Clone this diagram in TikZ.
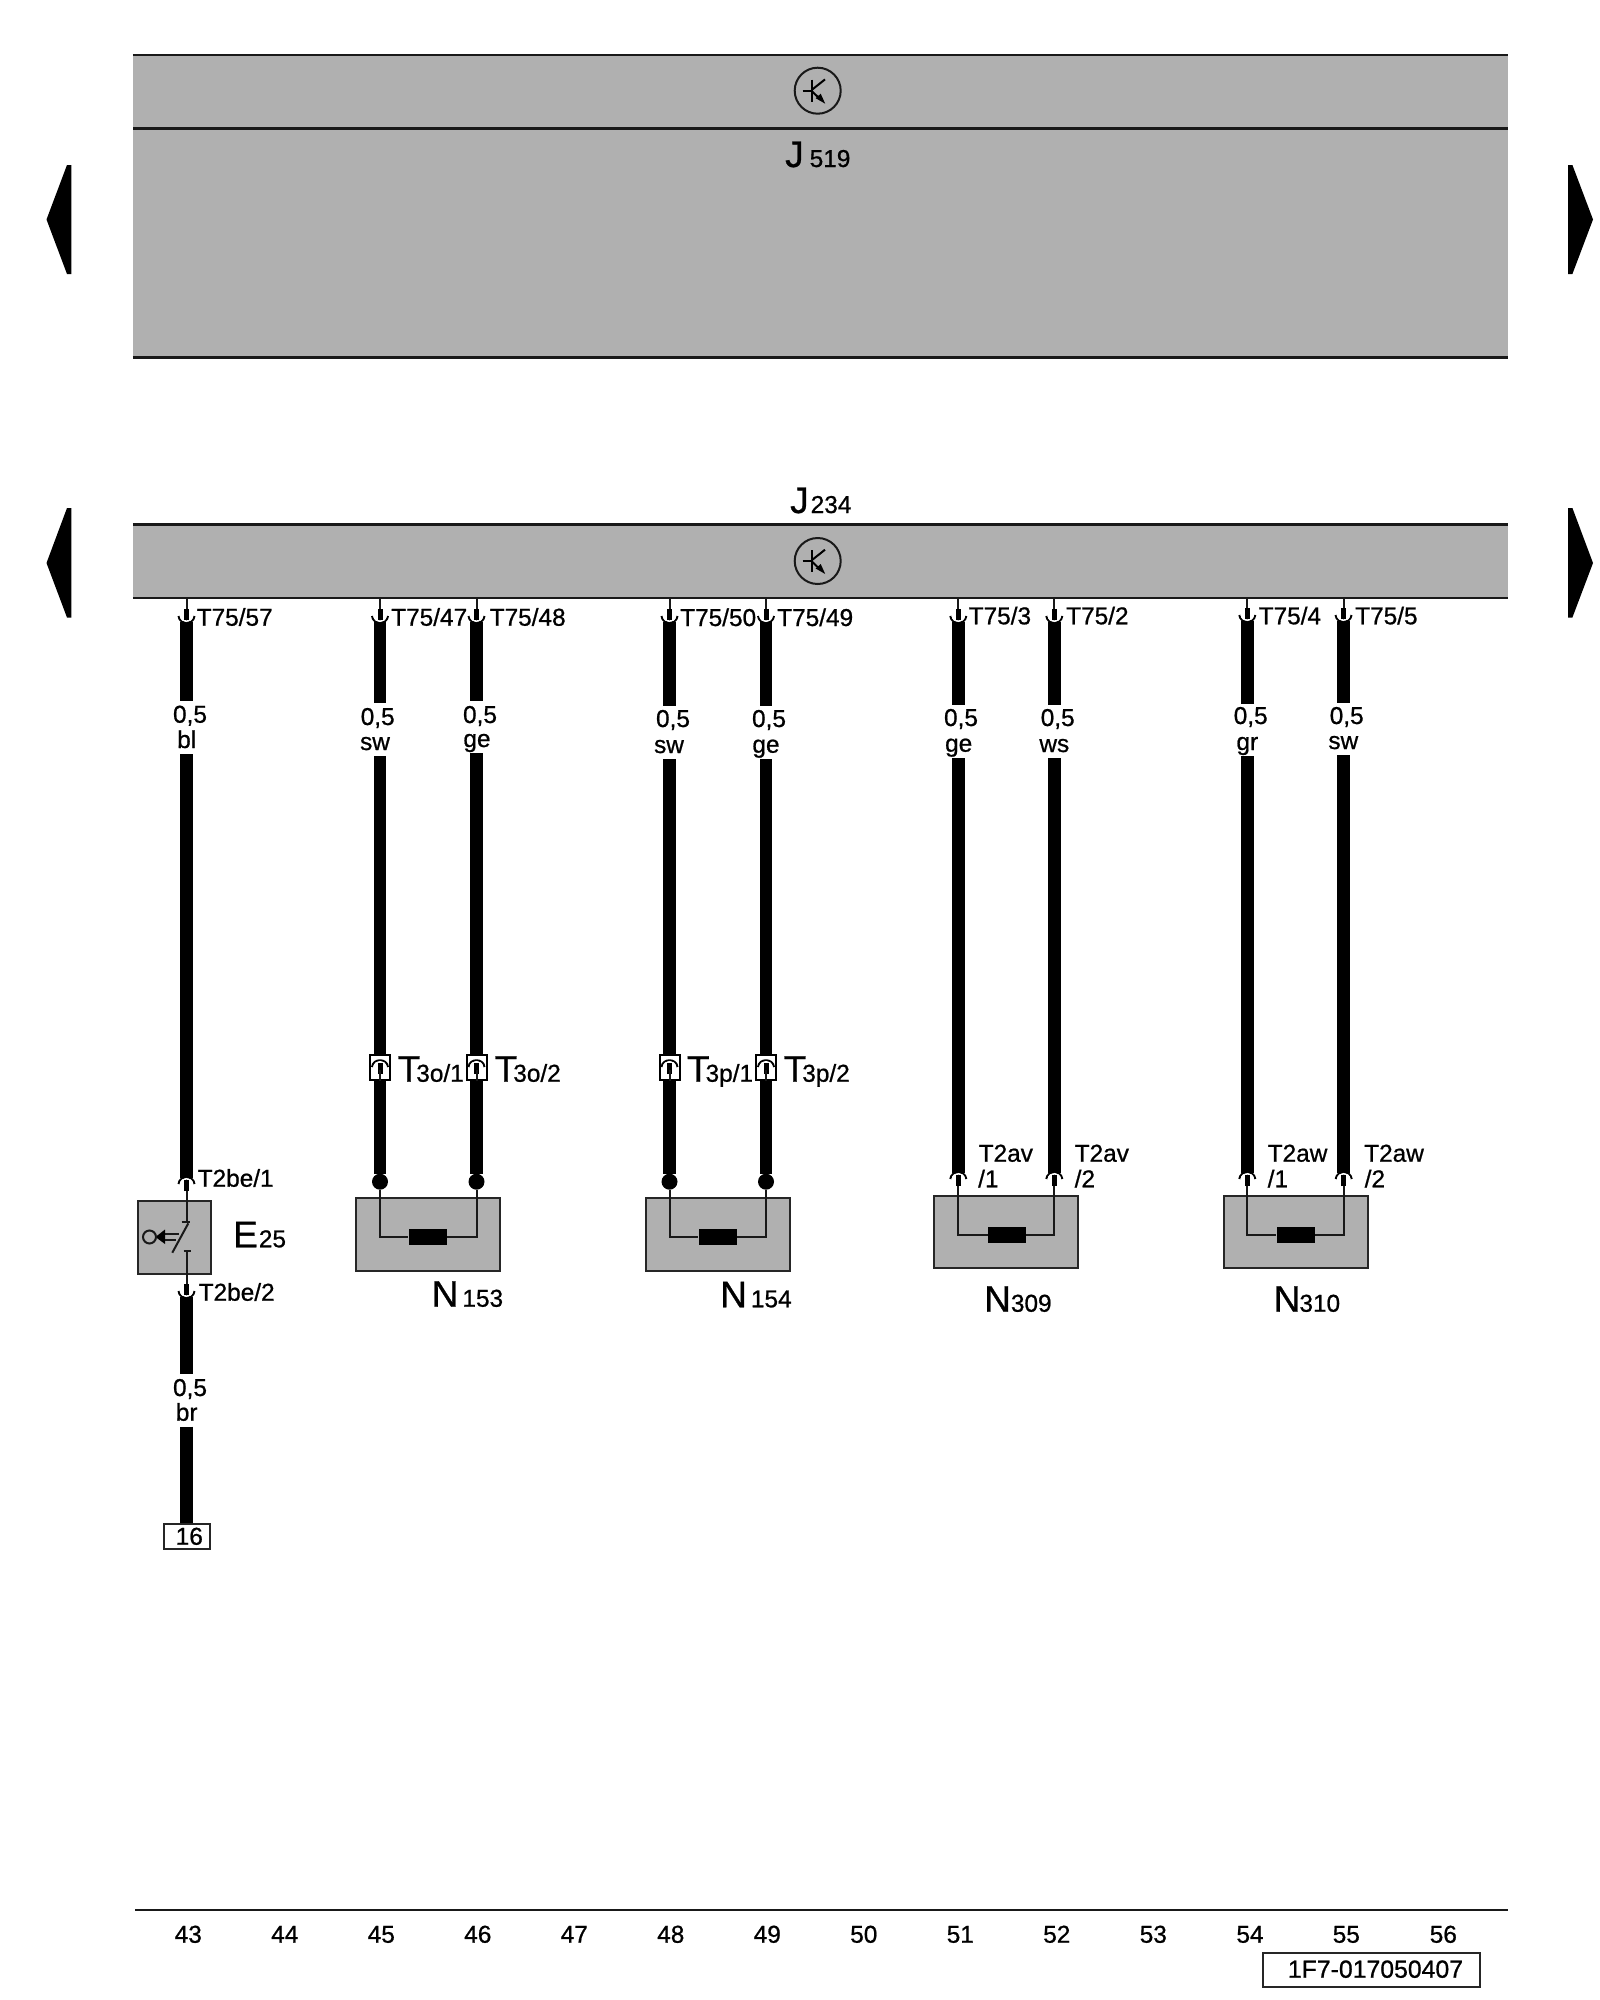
\documentclass[tikz,border=0pt]{standalone}
\usepackage{fontspec}
\setmainfont[FakeBold=0.8]{Liberation Sans}
\newcommand{\bigch}[1]{{\fontsize{37}{37}\selectfont #1}}
\tikzset{
    bar/.style={fill=black!31,inner sep=0pt,minimum width=1375pt},
    barline/.style={line width=2.5pt,black!90},
    part/.style={draw=black!85,fill=black!31,line width=2pt,inner sep=0pt,minimum width=144pt,minimum height=72.5pt},
    wire/.style={line width=12.5pt,black},
    thinw/.style={line width=2pt,black!90},
    resistor/.style={fill=black,inner sep=0pt,minimum width=38pt,minimum height=16pt},
    ball/.style={circle,fill=black,inner sep=0pt,minimum size=16pt},
    plug/.style={draw=black,fill=white,line width=2pt,inner sep=0pt,minimum width=20pt,minimum height=25pt},
    frame/.style={draw=black!85,fill=white,line width=2pt,inner sep=0pt},
    txt/.style={font=\fontsize{24.4}{24.4}\selectfont,inner sep=0pt,anchor=base},
    txtl/.style={txt,anchor=base west},
    pinend/.pic={
        \draw[black,line width=2pt] (-8,-6) .. controls (-7,3) and (7,3) .. (8,-6);
        \draw[white,line width=1.5pt] (-6,-6) .. controls (-5,1) and (5,1) .. (6,-6);
        \draw[black,line width=5pt] (0,-13) -- (0,-2);
    },
    transistor/.pic={
        \draw[line width=2pt,black!90] (0,0) circle (23pt);
        \draw[line width=2pt] (-5.3,-11) -- (-5.3,11);
        \draw[line width=2pt] (-15,0) -- (-5.3,0);
        \draw[line width=2pt] (-5.3,-1.3) -- (7.3,-11.3);
        \draw[line width=2pt] (-5.3,1) -- (3,9);
        \fill (7.5,13) -- (-2,7.5) -- (3,3) -- cycle;
    }
}
\begin{document}
\begin{tikzpicture}[x=1pt,y=-1pt]
    \useasboundingbox (0,0) rectangle (1600,2000);

    \node[bar,minimum height=302.3pt] (j519) at (820.5,206.15) {};
    \draw[barline] (j519.north west) -- (j519.north east);
    \coordinate (j519m) at (133,128.3);
    \draw[barline] (j519m) -- (j519m -| j519.east);
    \draw[barline] (j519.south west) -- (j519.south east);
    \pic at (817.7,90.7) {transistor};
    \node[txtl] (j519t) at (785,167) {\bigch{J}\kern6pt 519};

    \node[txtl] (j234t) at (790,513) {\bigch{J}\kern2pt 234};
    \node[bar,minimum height=73pt] (j234) at (820.5,561.2) {};
    \draw[barline] (j234.north west) -- (j234.north east);
    \draw[barline] (j234.south west) -- (j234.south east);
    \pic at (817.7,561) {transistor};

    \fill (71.4,165) -- (67,165) -- (46.5,219.5) -- (67,274) -- (71.4,274) -- cycle;
    \fill (71.4,508) -- (67,508) -- (46.5,563) -- (67,617.5) -- (71.4,617.5) -- cycle;
    \fill (1568,165) -- (1572.4,165) -- (1593,219.5) -- (1572.4,274) -- (1568,274) -- cycle;
    \fill (1568,508) -- (1572.4,508) -- (1593,563) -- (1572.4,617.5) -- (1568,617.5) -- cycle;

    \coordinate (p1) at (186.5,622);
    \coordinate (p2) at (380,622);
    \coordinate (p3) at (476.5,622);
    \coordinate (p4) at (669.5,622);
    \coordinate (p5) at (766,622);
    \coordinate (p6) at (958.3,622);
    \coordinate (p7) at (1054.3,622);
    \coordinate (p8) at (1247.3,621);
    \coordinate (p9) at (1343.5,621);

    \draw[wire] (p1) -- (p1 |- 0,701);
    \draw[wire] (p2) -- (p2 |- 0,703);
    \draw[wire] (p3) -- (p3 |- 0,701);
    \draw[wire] (p4) -- (p4 |- 0,706);
    \draw[wire] (p5) -- (p5 |- 0,706);
    \draw[wire] (p6) -- (p6 |- 0,705);
    \draw[wire] (p7) -- (p7 |- 0,705);
    \draw[wire] (p8) -- (p8 |- 0,704);
    \draw[wire] (p9) -- (p9 |- 0,703);

    \draw[thinw] (p1 |- j234.south) -- (p1);
    \draw[thinw] (p2 |- j234.south) -- (p2);
    \draw[thinw] (p3 |- j234.south) -- (p3);
    \draw[thinw] (p4 |- j234.south) -- (p4);
    \draw[thinw] (p5 |- j234.south) -- (p5);
    \draw[thinw] (p6 |- j234.south) -- (p6);
    \draw[thinw] (p7 |- j234.south) -- (p7);
    \draw[thinw] (p8 |- j234.south) -- (p8);
    \draw[thinw] (p9 |- j234.south) -- (p9);

    \pic at (p1) {pinend};
    \pic at (p2) {pinend};
    \pic at (p3) {pinend};
    \pic at (p4) {pinend};
    \pic at (p5) {pinend};
    \pic at (p6) {pinend};
    \pic at (p7) {pinend};
    \pic at (p8) {pinend};
    \pic at (p9) {pinend};

    \node[txtl] (t57) at (196.5,625.7) {T75/57};
    \node[txtl] (t47) at (391,625.7) {T75/47};
    \node[txtl] (t48) at (489.5,625.7) {T75/48};
    \node[txtl] (t50) at (680,626) {T75/50};
    \node[txtl] (t49) at (777,626) {T75/49};
    \node[txtl] (t3) at (968.5,624.3) {T75/3};
    \node[txtl] (t2) at (1066,624.3) {T75/2};
    \node[txtl] (t4) at (1258.5,624.3) {T75/4};
    \node[txtl] (t5) at (1355,624.3) {T75/5};

    \node[txt] (s1) at (190,722.7) {0,5};
    \node[txt] (c1) at (186.7,748) {bl};
    \node[txt] (s2) at (377.7,725) {0,5};
    \node[txt] (c2) at (375,750) {sw};
    \node[txt] (s3) at (480,723) {0,5};
    \node[txt] (c3) at (477,747) {ge};
    \node[txt] (s4) at (673,727) {0,5};
    \node[txt] (c4) at (669,753) {sw};
    \node[txt] (s5) at (769,727) {0,5};
    \node[txt] (c5) at (766,752.7) {ge};
    \node[txt] (s6) at (961,726) {0,5};
    \node[txt] (c6) at (958.7,751.7) {ge};
    \node[txt] (s7) at (1057.7,726) {0,5};
    \node[txt] (c7) at (1054.3,752) {ws};
    \node[txt] (s8) at (1250.7,724) {0,5};
    \node[txt] (c8) at (1247.3,750) {gr};
    \node[txt] (s9) at (1346.7,724) {0,5};
    \node[txt] (c9) at (1343.3,749) {sw};

    \node[part] (n153) at (428,1234.5) {};
    \node[part] (n154) at (717.5,1234.5) {};
    \node[part] (n309) at (1005.8,1232.2) {};
    \node[part] (n310) at (1295.5,1232.2) {};

    \node[resistor] (r153) at (427.5,1236.5) {};
    \node[resistor] (r154) at (717.5,1236.5) {};
    \node[resistor] (r309) at (1006.7,1234.7) {};
    \node[resistor] (r310) at (1295.5,1234.7) {};

    \node[ball] (b2) at (380,1181.7) {};
    \node[ball] (b3) at (476.5,1181.7) {};
    \node[ball] (b4) at (669.5,1181.7) {};
    \node[ball] (b5) at (766,1181.7) {};

    \draw[wire] (b2 |- 0,756) -- (b2);
    \draw[wire] (b3 |- 0,753) -- (b3);
    \draw[wire] (b4 |- 0,759) -- (b4);
    \draw[wire] (b5 |- 0,759) -- (b5);

    \draw[thinw] (b2) |- (r153.west);
    \draw[thinw] (b3) |- (r153.east);
    \draw[thinw] (b4) |- (r154.west);
    \draw[thinw] (b5) |- (r154.east);

    \node[plug] (x1) at (380,1067.5) {};
    \node[plug] (x2) at (476.5,1067.5) {};
    \node[plug] (x3) at (669.5,1067.5) {};
    \node[plug] (x4) at (766,1067.5) {};
    \pic[yscale=-1] at (380,1061) {pinend};
    \pic[yscale=-1] at (476.5,1061) {pinend};
    \pic[yscale=-1] at (669.5,1061) {pinend};
    \pic[yscale=-1] at (766,1061) {pinend};
    \draw[thinw] (x1 |- 0,1070) -- (x1.south);
    \draw[thinw] (x2 |- 0,1070) -- (x2.south);
    \draw[thinw] (x3 |- 0,1070) -- (x3.south);
    \draw[thinw] (x4 |- 0,1070) -- (x4.south);

    \node[txtl] (l1) at (397.5,1081.7) {\bigch{T}\kern-4pt 3o/1};
    \node[txtl] (l2) at (494.5,1081.7) {\bigch{T}\kern-4pt 3o/2};
    \node[txtl] (l3) at (686.8,1081.7) {\bigch{T}\kern-4pt 3p/1};
    \node[txtl] (l4) at (783.5,1081.7) {\bigch{T}\kern-4pt 3p/2};

    \node[txtl] (n153t) at (431.5,1306.7) {\bigch{N}\kern4pt 153};
    \node[txtl] (n154t) at (720,1307.3) {\bigch{N}\kern4pt 154};
    \node[txtl] (n309t) at (984,1311.7) {\bigch{N}\kern0pt 309};
    \node[txtl] (n310t) at (1273.5,1311.7) {\bigch{N}\kern-1pt 310};

    \coordinate (u6) at (958.3,1173);
    \coordinate (u7) at (1054.3,1173);
    \coordinate (u8) at (1247.3,1173);
    \coordinate (u9) at (1343.7,1173);

    \draw[wire] (u6 |- 0,758) -- (u6);
    \draw[wire] (u7 |- 0,758) -- (u7);
    \draw[wire] (u8 |- 0,756) -- (u8);
    \draw[wire] (u9 |- 0,755) -- (u9);

    \draw[thinw] (u6) |- (r309.west);
    \draw[thinw] (u7) |- (r309.east);
    \draw[thinw] (u8) |- (r310.west);
    \draw[thinw] (u9) |- (r310.east);

    \pic[yscale=-1] at (u6) {pinend};
    \pic[yscale=-1] at (u7) {pinend};
    \pic[yscale=-1] at (u8) {pinend};
    \pic[yscale=-1] at (u9) {pinend};

    \node[txtl] (a1) at (978.5,1161.7) {T2av};
    \node[txtl] (a2) at (978,1187.3) {/1};
    \node[txtl] (a3) at (1074.5,1161.7) {T2av};
    \node[txtl] (a4) at (1074.5,1187.3) {/2};
    \node[txtl] (a5) at (1267.5,1161.7) {T2aw};
    \node[txtl] (a6) at (1267.5,1187.3) {/1};
    \node[txtl] (a7) at (1364,1161.7) {T2aw};
    \node[txtl] (a8) at (1364.5,1187.3) {/2};

    \node[part,minimum width=73pt,minimum height=72.7pt] (e25) at (174.2,1237.4) {};
    \coordinate (e1) at (186.5,1178);
    \coordinate (e2) at (186.5,1222.3);
    \coordinate (e3) at (186.5,1251);
    \coordinate (e4) at (186.5,1297);
    \coordinate (e5) at (186.5,1374);
    \coordinate (e6) at (186.5,1426.7);

    \node[frame,minimum width=46pt,minimum height=25.3pt] (g16) at (187,1536.7) {};

    \draw[wire] (p1 |- 0,754) -- (e1);
    \draw[wire] (e4) -- (e5);
    \draw[wire] (e6) -- (e6 |- g16.north);
    \draw[thinw] (e1) -- (e2);
    \draw[thinw] (e3) -- (e4);
    \draw[thinw] ([xshift=-5pt]e2) -- ([xshift=3pt]e2);
    \draw[thinw] ([xshift=-3pt]e3) -- ([xshift=4pt]e3);
    \draw[thinw] (172.3,1252.7) -- (188.3,1223.3);
    \draw[thinw,line width=1.5pt] (164,1234) -- (179,1234);
    \draw[thinw,line width=1.5pt] (164,1240) -- (176,1240);
    \fill (155.5,1237) -- (165,1229.5) -- (165,1244) -- cycle;
    \draw[thinw] (149.5,1237) circle (6.5pt);

    \pic[yscale=-1] at (e1) {pinend};
    \pic at (e4) {pinend};

    \node[txtl] (t2be1) at (197.5,1186.7) {T2be/1};
    \node[txtl] (t2be2) at (198.5,1300.7) {T2be/2};
    \node[txtl] (e25t) at (233,1247.3) {\bigch{E}\kern1pt 25};
    \node[txt] (s10) at (190,1396) {0,5};
    \node[txt] (c10) at (186.7,1420.7) {br};
    \node[txt] (n16) at (189.3,1544.7) {16};

    \coordinate (sa) at (135,1910);
    \coordinate (sb) at (1508,1910);
    \draw[barline] (sa) -- (sb);
    \node[txt] (k43) at (188.3,1942.7) {43};
    \node[txt] (k44) at (284.8,1942.7) {44};
    \node[txt] (k45) at (381.3,1942.7) {45};
    \node[txt] (k46) at (477.8,1942.7) {46};
    \node[txt] (k47) at (574.3,1942.7) {47};
    \node[txt] (k48) at (670.8,1942.7) {48};
    \node[txt] (k49) at (767.3,1942.7) {49};
    \node[txt] (k50) at (863.8,1942.7) {50};
    \node[txt] (k51) at (960.3,1942.7) {51};
    \node[txt] (k52) at (1056.8,1942.7) {52};
    \node[txt] (k53) at (1153.3,1942.7) {53};
    \node[txt] (k54) at (1250,1942.7) {54};
    \node[txt] (k55) at (1346.3,1942.7) {55};
    \node[txt] (k56) at (1443.3,1942.7) {56};

    \node[frame,minimum width=217.3pt,minimum height=34pt] (code) at (1371.3,1969.7) {};
    \node[txt,font=\fontsize{24.8}{24.8}\selectfont] (codet) at (1375.5,1977.7) {1F7-017050407};
\end{tikzpicture}
\end{document}
